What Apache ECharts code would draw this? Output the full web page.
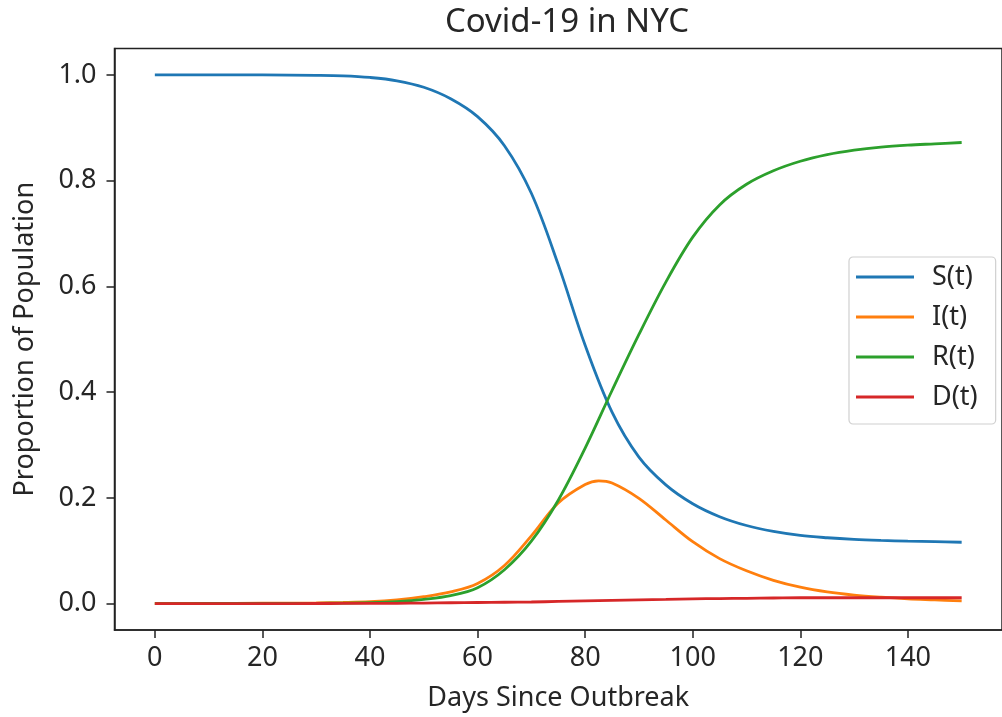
<!DOCTYPE html>
<html>
<head>
<meta charset="utf-8">
<script src="https://cdn.jsdelivr.net/npm/echarts@6/dist/echarts.min.js"></script>
<style>
html,body{margin:0;padding:0;background:#fff;}
#chart{width:1002px;height:717px;}
</style>
</head>
<body>
<div id="chart"></div>
<script>
var days = [0,10,20,30,35,40,45,50,55,60,65,70,75,80,85,90,95,100,105,110,115,120,125,130,135,140,145,150];
var S = [1.0,1.0,0.9998,0.999,0.998,0.995,0.9888,0.9765,0.9548,0.921,0.866,0.776,0.641,0.4885,0.362,0.277,0.2245,0.1888,0.1643,0.1476,0.1363,0.1288,0.1245,0.1215,0.1195,0.118,0.117,0.116];
var R = [0,0.0001,0.0002,0.0005,0.0009,0.0018,0.0038,0.008,0.015,0.030,0.064,0.118,0.1955,0.294,0.403,0.509,0.608,0.693,0.754,0.793,0.8185,0.8365,0.849,0.8575,0.8633,0.867,0.8695,0.872];
var D = [0,0,0,0.0001,0.0002,0.0003,0.0005,0.001,0.0015,0.002,0.0025,0.003,0.004,0.005,0.006,0.007,0.008,0.009,0.0095,0.010,0.0105,0.011,0.011,0.011,0.011,0.011,0.011,0.011];
var daysI = [0,10,20,30,35,40,45,50,55,60,65,70,75,80,82.5,85,90,95,100,105,110,115,120,125,130,135,140,145,150];
var I = [0.0002,0.0003,0.0006,0.0012,0.002,0.0035,0.007,0.013,0.022,0.038,0.072,0.128,0.190,0.225,0.232,0.228,0.199,0.158,0.117,0.085,0.062,0.044,0.031,0.022,0.016,0.012,0.009,0.007,0.005];
var xTicks = [0,20,40,60,80,100,120,140];
var yTicks = [0,0.2,0.4,0.6,0.8,1.0];
var seriesNames = ['S(t)','I(t)','R(t)','D(t)'];
var colors = ['#1f77b4','#ff7f0e','#2ca02c','#d62728'];

function pairs(xs, vals){ return xs.map(function(d,i){ return [d, vals[i]]; }); }
var seriesData = [pairs(days,S), pairs(daysI,I), pairs(days,R), pairs(days,D)];
var FONT = 'Noto Sans';
var txt = '#262626';
var FS = 27;

var chart = echarts.init(document.getElementById('chart'), null, {renderer:'canvas'});
chart.setOption({
  animation:false,
  backgroundColor:'#fff',
  color: colors,
  title:{
    text:'Covid-19 in NYC',
    left:562, top:1, textAlign:'center',
    textStyle:{fontFamily:FONT,fontSize:33,fontWeight:'normal',color:txt}
  },
  grid:{
    left:114.5, right:-8, top:48.4, bottom:86.2,
    show:true, borderColor:'#222', borderWidth:1.5, backgroundColor:'transparent'
  },
  legend:{
    orient:'vertical', left:849, top:257,
    data: seriesNames,
    icon:'rect', itemWidth:58, itemHeight:3, itemGap:12,
    padding:[6,18,13,7],
    backgroundColor:'#fff', borderColor:'#d0d0d0', borderWidth:1.2, borderRadius:4,
    textStyle:{fontFamily:FONT,fontSize:FS,color:txt,padding:[0,0,0,13],lineHeight:28}
  },
  xAxis:{
    type:'value', min:-7.5, max:157.5,
    name:'Days Since Outbreak', nameLocation:'middle', nameGap:55,
    nameTextStyle:{fontFamily:FONT,fontSize:FS,color:txt},
    axisLine:{show:true,onZero:false,lineStyle:{color:'#222',width:1.5}},
    axisTick:{show:true,inside:false,length:8,lineStyle:{color:'#222',width:1.5},customValues:xTicks},
    axisLabel:{show:true,customValues:xTicks,fontFamily:FONT,fontSize:FS,color:txt,margin:15},
    splitLine:{show:false}
  },
  yAxis:{
    type:'value', min:-0.05, max:1.05,
    name:'Proportion of Population', nameLocation:'middle', nameGap:76,
    nameTextStyle:{fontFamily:FONT,fontSize:FS,color:txt},
    axisLine:{show:true,onZero:false,lineStyle:{color:'#222',width:1.5}},
    axisTick:{show:true,inside:false,length:8,lineStyle:{color:'#222',width:1.5},customValues:yTicks},
    axisLabel:{show:true,customValues:yTicks,fontFamily:FONT,fontSize:FS,color:txt,margin:18,
      formatter:function(v){return v.toFixed(1);}},
    splitLine:{show:false}
  },
  series: seriesNames.map(function(n,k){
    return {
      name:n, type:'line', data:seriesData[k],
      showSymbol:false, symbol:'none',
      smooth:0.35,
      lineStyle:{width:2.8,color:colors[k]},
      itemStyle:{color:colors[k]},
      z: 2+k
    };
  })
});
</script>
</body>
</html>
